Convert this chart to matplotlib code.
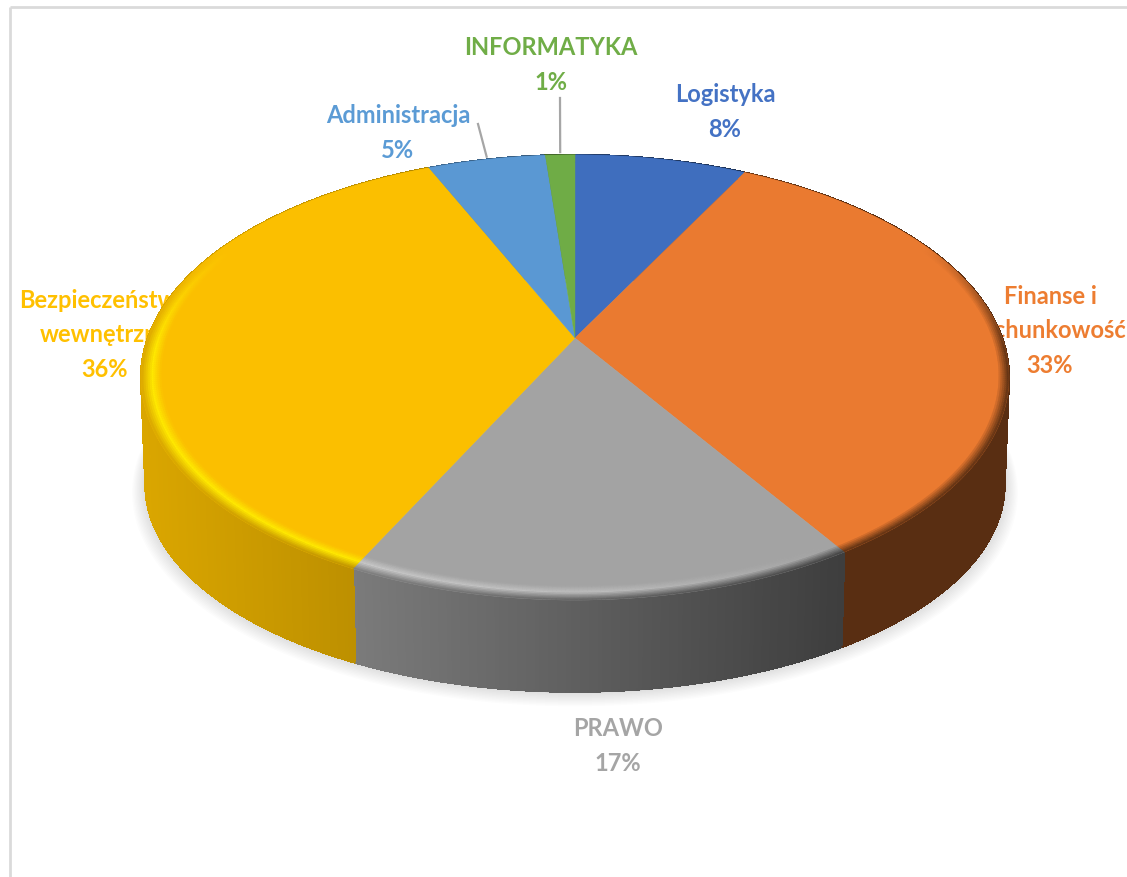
import numpy as np
import matplotlib
matplotlib.use('Agg')
import matplotlib.pyplot as plt
from matplotlib.collections import PolyCollection, LineCollection
from matplotlib.colors import to_rgb

# data, clockwise from 12 o'clock
categories = ['Logistyka', 'Finanse i\nrachunkowość', 'PRAWO', 'Bezpieczeństwo\nwewnętrzne', 'Administracja', 'INFORMATYKA']
values = [7.6, 33.4, 16.2, 36.3, 5.2, 1.3]
percent_labels = ['8%', '33%', '17%', '36%', '5%', '1%']
colors = ['#3F6EBE', '#EA7A30', '#A3A3A3', '#FBBF00', '#5A98D3', '#6FAC46']
text_colors = ['#4472C4', '#ED7D31', '#A5A5A5', '#FFC000', '#5B9BD5', '#70AD47']

# label centres in pixels
label_pos = [(725, 112), (1050, 331), (618, 746), (105, 335), (398, 133), (551, 65)]

W, H = 1127, 877
CX, CY = 575, 338
PERSP = 0.1775
AX_X, AX_Y = 427.0, 215.5
BASE_X, BASE_Y, BASE_DROP = 0.99, 0.93, 110
RIM = 0.955


def project(theta, r=1.0, sx=1.0, sy=1.0, drop=0.0):
    # perspective view of the disc, theta in degrees clockwise from the top
    t = np.radians(theta)
    u = r * np.sin(t)
    v = r * np.cos(t)
    den = 1 + PERSP * v
    return CX + sx * AX_X * u / den, CY - sy * AX_Y * v / den + drop


def base_point(theta, grow=0.0, extra=0.0):
    return project(theta, 1.0, BASE_X + grow, BASE_Y + grow, BASE_DROP + extra)


def wall_shade(x):
    return np.interp(x, [140, 357, 840, 1010], [0.87, 0.75, 0.38, 0.38])


def mix(a, b, t):
    return a + (b - a) * t


fig = plt.figure(figsize=(W / 100, H / 100), dpi=100)
ax = fig.add_axes([0, 0, 1, 1])
ax.set_xlim(0, W)
ax.set_ylim(H, 0)
ax.axis('off')

# picture frame, only top and left show
ax.plot([10, W], [7, 7], color='#DADADA', lw=2, zorder=1, solid_capstyle='butt')
ax.plot([10, 10], [7, H], color='#DADADA', lw=2, zorder=1, solid_capstyle='butt')

# soft shadow under the disc
ring = np.linspace(0, 360, 361)
for k in range(12):
    sx, sy = base_point(ring, 0.0028 * k, 0.6 * k)
    ax.fill(sx, sy, color='black', alpha=0.011, lw=0, zorder=2)

for name, pct, pos, tc in zip(categories, percent_labels, label_pos, text_colors):
    ax.text(pos[0], pos[1], name + '\n' + pct, color=tc, ha='center', va='center',
            fontsize=17, fontfamily='Lato', fontweight='bold', linespacing=1.62, zorder=2.5)

edges = np.concatenate([[0], np.cumsum(values)]) / np.sum(values) * 360

# side wall
polys, cols, outline, outline_cols = [], [], [], []
for i, c in enumerate(colors):
    base = np.array(to_rgb(c))
    th = np.arange(edges[i], edges[i + 1] + 0.5, 0.5)
    th[-1] = edges[i + 1]
    for a, b in zip(th[:-1], th[1:]):
        x1, y1 = project(a)
        x2, y2 = project(b)
        x3, y3 = base_point(b)
        x4, y4 = base_point(a)
        shade = base * wall_shade((x1 + x2) / 2)
        polys.append([(x1, y1), (x2, y2), (x3, y3), (x4, y4)])
        cols.append(shade)
        outline.append([(x4, y4), (x3, y3)])
        outline_cols.append(shade)
ax.add_collection(PolyCollection(polys, facecolors=cols, edgecolors=cols, linewidths=1.0,
                                 antialiaseds=False, zorder=3))
ax.add_collection(LineCollection(outline, colors=outline_cols, linewidths=1.2, zorder=3))

# top face
for i, c in enumerate(colors):
    th = np.linspace(edges[i], edges[i + 1], 200)
    x, y = project(th)
    ax.fill(np.r_[CX, x], np.r_[CY, y], color=c, lw=0.3, zorder=4)

# bevel round the front of the face
polys, cols = [], []
rings = np.linspace(RIM, 1.0, 11)
for i, c in enumerate(colors):
    base = np.array(to_rgb(c))
    th = np.arange(edges[i], edges[i + 1] + 0.5, 0.5)
    th[-1] = edges[i + 1]
    for a, b in zip(th[:-1], th[1:]):
        mid = (a + b) / 2
        mx, _ = project(mid)
        fade = np.clip((0.45 - np.cos(np.radians(mid))) / 0.5, 0, 1)
        glow = np.interp(mx, [140, 357, 600, 840], [1.0, 1.0, 0.7, 0.0])
        bright = np.minimum(base * 1.22, 1)
        wall = base * wall_shade(mx)
        for j in range(len(rings) - 1):
            t = (rings[j] + rings[j + 1] - 2 * RIM) / (2 * (1 - RIM))
            if t < 0.45:
                col = mix(base, mix(base, bright, glow), t / 0.45)
            else:
                col = mix(mix(base, bright, glow), wall, (t - 0.45) / 0.55)
            col = mix(base, col, fade)
            xa, ya = project(a, rings[j])
            xb, yb = project(b, rings[j])
            xc, yc = project(b, rings[j + 1])
            xd, yd = project(a, rings[j + 1])
            polys.append([(xa, ya), (xb, yb), (xc, yc), (xd, yd)])
            cols.append(col)
ax.add_collection(PolyCollection(polys, facecolors=cols, edgecolors=cols, linewidths=0.3, zorder=5))

# leader lines for the two small slices
for idx, start in [(4, (478, 124)), (5, (560, 98))]:
    ex, ey = project((edges[idx] + edges[idx + 1]) / 2)
    ax.plot([start[0], ex], [start[1], ey - 3], color='#A6A6A6', lw=1.6, zorder=6)

fig.savefig('out.png', dpi=100)
